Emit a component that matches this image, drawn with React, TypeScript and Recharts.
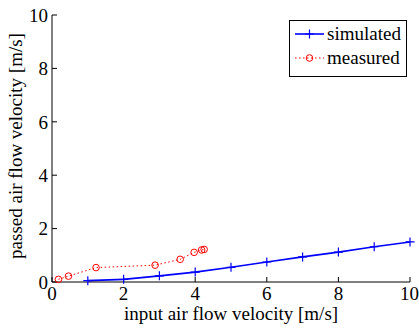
import React from "react";
import { LineChart, Line, XAxis, YAxis, Legend } from "recharts";

const simX = [1, 2, 3, 4, 5, 6, 7, 8, 9, 10];
const simY = [0.05, 0.1, 0.23, 0.37, 0.55, 0.75, 0.94, 1.12, 1.32, 1.5];
const measX = [0.18, 0.46, 1.23, 2.88, 3.58, 3.97, 4.18, 4.25];
const measY = [0.1, 0.22, 0.54, 0.63, 0.85, 1.11, 1.2, 1.22];
const xTicks = [0, 2, 4, 6, 8, 10];
const yTicks = [0, 2, 4, 6, 8, 10];
const seriesNames = ["simulated", "measured"];

const simData = simX.map((x, i) => ({ x, y: simY[i] }));
const measData = measX.map((x, i) => ({ x, y: measY[i] }));

const FONT = "'Liberation Serif', 'Times New Roman', serif";
const BLUE = "#0000ff";
const RED = "#ff0000";

const PlusDot = (p: any) => {
  const { cx, cy, index } = p;
  return (
    <path
      key={`plus-${index}`}
      d={`M${cx - 4.5},${cy}h9M${cx},${cy - 4.5}v9`}
      stroke={BLUE}
      strokeWidth={1.2}
      fill="none"
    />
  );
};

const CircleDot = (p: any) => {
  const { cx, cy, index } = p;
  return <circle key={`circ-${index}`} cx={cx} cy={cy} r={3.3} stroke={RED} strokeWidth={1} fill="none" />;
};

const LegendBox = () => (
  <div
    style={{
      boxSizing: "border-box",
      width: 118,
      height: 57,
      border: "1px solid #000",
      background: "#fff",
      paddingTop: 1,
      fontFamily: FONT,
      fontSize: 19,
      color: "#000",
    }}
  >
    <div style={{ display: "flex", alignItems: "center", height: 24 }}>
      <svg width={37} height={24}>
        <line x1={5} y1={12} x2={34} y2={12} stroke={BLUE} strokeWidth={1.6} />
        <path d="M19.5,7.5v9M15,12h9" stroke={BLUE} strokeWidth={1.2} />
      </svg>
      <span>{seriesNames[0]}</span>
    </div>
    <div style={{ display: "flex", alignItems: "center", height: 24 }}>
      <svg width={37} height={24}>
        <line x1={5} y1={12} x2={34} y2={12} stroke={RED} strokeWidth={1} strokeDasharray="1.5 2.5" />
        <circle cx={19.5} cy={12} r={3.3} stroke={RED} strokeWidth={1} fill="none" />
      </svg>
      <span>{seriesNames[1]}</span>
    </div>
  </div>
);

export default function App() {
  const tickStyle = { fill: "#000", fontFamily: FONT, fontSize: 19 };
  return (
    <div style={{ position: "absolute", left: 0, top: 0, background: "#fff" }}>
      <LineChart width={419} height={329} margin={{ top: 15, right: 9, left: 0, bottom: 0 }}>
        <XAxis
          dataKey="x"
          type="number"
          domain={[0, 10]}
          ticks={xTicks}
          height={47}
          tickSize={-5}
          tickMargin={10}
          stroke="#000"
          tick={tickStyle}
          label={{
            value: "input air flow velocity [m/s]",
            position: "insideBottom",
            offset: 9,
            fill: "#000",
            fontFamily: FONT,
            fontSize: 19,
          }}
        />
        <XAxis
          xAxisId="top"
          orientation="top"
          type="number"
          domain={[0, 10]}
          ticks={xTicks}
          height={0}
          tickSize={-5}
          tick={false}
          stroke="#000"
        />
        <YAxis
          type="number"
          domain={[0, 10]}
          ticks={yTicks}
          width={52}
          tickSize={-5}
          tickMargin={9}
          stroke="#000"
          tick={tickStyle}
          label={{
            content: () => (
              <text
                x={22}
                y={146}
                transform="rotate(-90 22 146)"
                textAnchor="middle"
                fill="#000"
                fontFamily={FONT}
                fontSize={19}
              >
                passed air flow velocity [m/s]
              </text>
            ),
          }}
        />
        <YAxis
          yAxisId="right"
          orientation="right"
          type="number"
          domain={[0, 10]}
          ticks={yTicks}
          width={0}
          tickSize={-5}
          tick={false}
          stroke="#000"
        />
        <Line
          data={simData}
          dataKey="y"
          name={seriesNames[0]}
          stroke={BLUE}
          strokeWidth={1.6}
          dot={PlusDot}
          activeDot={false}
          isAnimationActive={false}
        />
        <Line
          data={measData}
          dataKey="y"
          name={seriesNames[1]}
          stroke={RED}
          strokeWidth={1}
          strokeDasharray="1.5 2.5"
          dot={CircleDot}
          activeDot={false}
          isAnimationActive={false}
        />
        <Legend
          layout="horizontal"
          verticalAlign="middle"
          align="center"
          content={() => <LegendBox />}
          wrapperStyle={{ top: 20, left: 289, width: 118, height: 57 }}
        />
      </LineChart>
    </div>
  );
}
